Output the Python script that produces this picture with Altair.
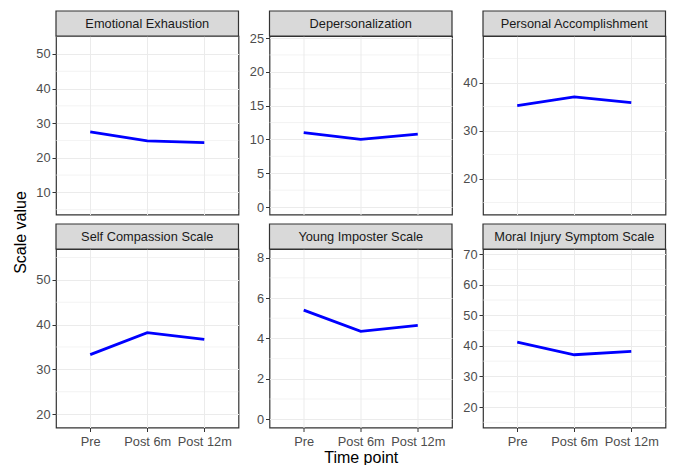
import altair as alt
import pandas as pd

time_points = ["Pre", "Post 6m", "Post 12m"]

panel_titles = [
    "Emotional Exhaustion",
    "Depersonalization",
    "Personal Accomplishment",
    "Self Compassion Scale",
    "Young Imposter Scale",
    "Moral Injury Symptom Scale",
]

ee_values = [27.5, 24.9, 24.4]
dp_values = [11.0, 10.0, 10.8]
pa_values = [35.2, 37.0, 35.8]
scs_values = [33.3, 38.2, 36.7]
yis_values = [5.4, 4.35, 4.65]
mis_values = [41.2, 37.1, 38.2]

ee_ticks = [10, 20, 30, 40, 50]
dp_ticks = [0, 5, 10, 15, 20, 25]
pa_ticks = [20, 30, 40]
scs_ticks = [20, 30, 40, 50]
yis_ticks = [0, 2, 4, 6, 8]
mis_ticks = [20, 30, 40, 50, 60, 70]

ee_domain = [3.6, 55.2]
dp_domain = [-1.1, 25.3]
pa_domain = [12.5, 49.7]
scs_domain = [17.0, 56.9]
yis_domain = [-0.41, 8.43]
mis_domain = [13.3, 71.7]

FONT = "Liberation Sans, Arial, sans-serif"
W = 182.5
H = 178.5
STRIP = 25


def make_panel(title, vals, ticks, domain, bottom_row, x_title=None, y_title=None):
    df = pd.DataFrame({"time": time_points, "value": vals})
    step = ticks[1] - ticks[0]
    minors = [ticks[0] - step / 2 + k * step for k in range(len(ticks) + 1)]
    minors = [m for m in minors if domain[0] <= m <= domain[1]]
    minor_df = pd.DataFrame({"value": minors})

    yaxis_kwargs = dict(values=ticks, grid=True, title=y_title)
    if y_title:
        yaxis_kwargs.update(titleX=-28, titleY=-17, titleAngle=270)
    y_enc = alt.Y(
        "value:Q",
        scale=alt.Scale(domain=domain, nice=False, zero=False),
        axis=alt.Axis(**yaxis_kwargs),
    )
    if bottom_row:
        xaxis = alt.Axis(grid=True, labels=True, ticks=True, title=x_title, labelAngle=0,
                         labelPadding=4, titlePadding=1)
    else:
        xaxis = alt.Axis(grid=True, labels=False, ticks=False, title=None)
    x_enc = alt.X("time:N", sort=time_points,
                  scale=alt.Scale(type="point", padding=0.6), axis=xaxis)

    minor = alt.Chart(minor_df).mark_rule(color="#EBEBEB", strokeWidth=0.6).encode(y=y_enc)
    line = alt.Chart(df).mark_line(color="#0000FF", strokeWidth=2.8).encode(x=x_enc, y=y_enc)
    strip_data = alt.Data(values=[{"label": title}])
    strip_rect = alt.Chart(strip_data).mark_rect(
        fill="#D9D9D9", stroke="#333333", strokeWidth=1.2
    ).encode(x=alt.value(0), x2=alt.value(W), y=alt.value(-STRIP), y2=alt.value(0))
    strip_text = alt.Chart(strip_data).mark_text(
        font=FONT, fontSize=12.8, color="#1A1A1A", baseline="middle", align="center"
    ).encode(x=alt.value(W / 2), y=alt.value(-STRIP / 2), text="label:N")
    return alt.layer(minor, line, strip_rect, strip_text).properties(width=W, height=H)


p1 = make_panel(panel_titles[0], ee_values, ee_ticks, ee_domain, False)
p2 = make_panel(panel_titles[1], dp_values, dp_ticks, dp_domain, False)
p3 = make_panel(panel_titles[2], pa_values, pa_ticks, pa_domain, False)
p4 = make_panel(panel_titles[3], scs_values, scs_ticks, scs_domain, True, y_title="Scale value")
p5 = make_panel(panel_titles[4], yis_values, yis_ticks, yis_domain, True, x_title="Time point")
p6 = make_panel(panel_titles[5], mis_values, mis_ticks, mis_domain, True)

chart = alt.concat(
    p1, p2, p3, p4, p5, p6,
    columns=3,
    spacing={"row": 34, "column": 30.5},
    bounds="flush",
).properties(
    padding={"left": 11, "top": 9, "right": 5, "bottom": 0},
    background="white",
).configure_axis(
    labelFont=FONT,
    labelFontSize=12.8,
    labelColor="#4D4D4D",
    tickColor="#333333",
    tickSize=4,
    tickWidth=1,
    labelPadding=2,
    domain=False,
    gridColor="#EBEBEB",
    gridWidth=1,
    titleFont=FONT,
    titleFontSize=16,
    titleFontWeight="normal",
    titleColor="#000000",
).configure_view(
    stroke="#333333",
    strokeWidth=1.2,
)

chart.save("out.html", embed_options={"renderer": "svg", "actions": False})
